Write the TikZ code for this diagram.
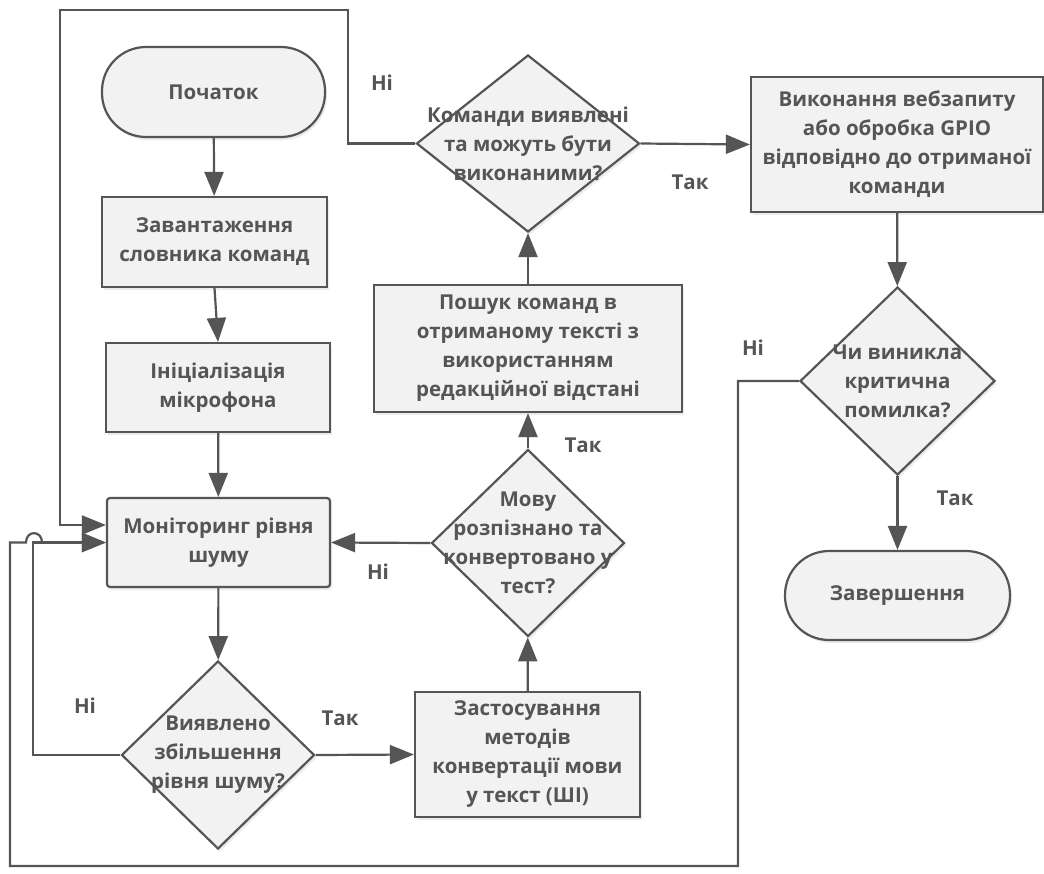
\documentclass[tikz,border=0pt]{standalone}
\usepackage{fontspec}
\setmainfont{Open Sans}
\usetikzlibrary{shapes.geometric,arrows.meta,shadows}
\definecolor{ln}{HTML}{555555}
\definecolor{fl}{HTML}{F2F2F2}
\definecolor{tx}{HTML}{555555}
\begin{document}
\begin{tikzpicture}[x=1pt,y=-1pt,
  every node/.style={font=\fontsize{20.5}{29}\selectfont\bfseries, text=tx},
  base/.style={draw=ln, line width=2.2pt, fill=fl,
    drop shadow={shadow xshift=2pt,shadow yshift=-3pt,opacity=0.15}},
  proc/.style={base, rectangle, align=center, inner sep=0pt},
  term/.style={base, rectangle, rounded corners=44pt, align=center, inner sep=0pt},
  dec/.style={base, diamond, inner sep=0pt},
  inl/.style={align=center, inner sep=0pt, fill=none, draw=none},
  lab/.style={inner sep=0pt},
  arr/.style={draw=ln, line width=2.2pt, -{Triangle[length=24pt,width=19pt]}},
  ln/.style={draw=ln, line width=2.2pt}
]
\fill[white] (0,0) rectangle (1044,873);
\useasboundingbox (0,0) rectangle (1044,873);

% nodes
\node[term, minimum width=223pt, minimum height=90pt] (start) at (213.5,92) {Початок};
\node[proc, minimum width=225pt, minimum height=90pt] (load) at (214.5,242) {Завантаження\\словника команд};
\node[proc, minimum width=224pt, minimum height=89pt] (init) at (218,387.5) {Ініціалізація\\мікрофона};
\node[proc, rounded corners=3pt, minimum width=223pt, minimum height=89pt] (mon) at (218.5,542.5) {Моніторинг рівня\\шуму};
\node[dec, minimum width=193pt, minimum height=188pt,
  label={[inl]center:{Виявлено\\збільшення\\рівня шуму?}}] (dec1) at (218,755) {};
\node[proc, minimum width=225pt, minimum height=125pt] (conv) at (527.5,754.5) {Застосування\\методів\\конвертації мови\\у текст (ШІ)};
\node[dec, minimum width=193pt, minimum height=187pt,
  label={[inl]center:{Мову\\розпізнано та\\конвертовано у\\тест?}}] (dec2) at (528,543) {};
\node[proc, minimum width=308pt, minimum height=127pt] (search) at (528,348.5) {Пошук команд в\\отриманому тексті з\\використанням\\редакційної відстані};
\node[dec, minimum width=223pt, minimum height=177pt,
  label={[inl]center:{Команди виявлені\\та можуть бути\\виконаними?}}] (dec3) at (528,143.5) {};
\node[proc, minimum width=292pt, minimum height=135pt] (exec) at (897,144.5) {Виконання вебзапиту\\або обробка GPIO\\відповідно до отриманої\\команди};
\node[dec, minimum width=195pt, minimum height=188pt,
  label={[inl]center:{Чи виникла\\критична\\помилка?}}] (dec4) at (897.5,381) {};
\node[term, minimum width=225pt, minimum height=89pt] (end) at (897.5,595.5) {Завершення};

% corner coordinates
\coordinate (k1) at (348,10);
\coordinate (k2) at (60,10);
\coordinate (b1) at (738,866);
\coordinate (b2) at (10,866);
\coordinate (b3) at (10,542.5);
\coordinate (h1) at (26,542.5);
\coordinate (h2) at (42,542.5);
\coordinate (n1) at (33,542.5);

% connectors
\draw[arr] (start) -- (load);
\draw[arr] (load.south) -- (init.north);
\draw[arr] (init) -- (mon);
\draw[arr] (mon) -- (dec1);
\draw[arr] (dec1.east) -- (conv.west);
\draw[arr] (conv) -- (dec2);
\draw[arr] (dec2.west) -- (mon.east);
\draw[arr] (dec2) -- (search);
\draw[arr] (search) -- (dec3);
\draw[arr] (dec3.east) -- (exec.west);
\draw[arr] (exec) -- (dec4);
\draw[arr] (dec4) -- (end);
\draw[arr] (dec3.west) -| (k1) -- (k2) |- ([yshift=17.5pt]mon.west);
\draw[arr] (dec1.west) -| (n1) -- (mon.west);
\draw[arr] (dec4.west) -| (b1) -- (b2) -- (b3) -- (h1)
  .. controls (26,530) and (42,530) .. (h2) -- (mon.west);

% labels
\node[lab] (l1) at (382,83) {Ні};
\node[lab] (l2) at (690,182) {Так};
\node[lab] (l3) at (753,348) {Ні};
\node[lab] (l4) at (955,498) {Так};
\node[lab] (l5) at (583,445) {Так};
\node[lab] (l6) at (378,572) {Ні};
\node[lab] (l7) at (85,706) {Ні};
\node[lab] (l8) at (340,718) {Так};
\end{tikzpicture}
\end{document}
